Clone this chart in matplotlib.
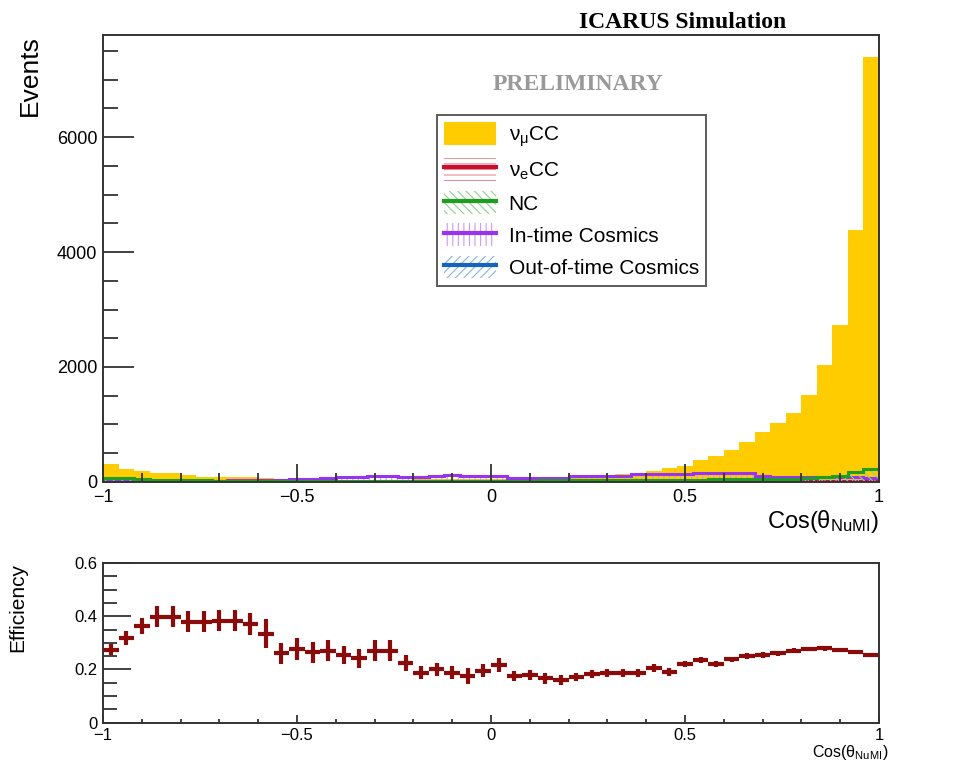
import numpy as np
import matplotlib
matplotlib.use("Agg")
import matplotlib.pyplot as plt
from matplotlib.patches import Patch
from matplotlib.lines import Line2D
from matplotlib.ticker import MultipleLocator, FixedFormatter, FixedLocator

plt.rcParams['font.family'] = ['Liberation Sans', 'DejaVu Sans']
plt.rcParams['mathtext.fontset'] = 'custom'
plt.rcParams['mathtext.rm'] = 'Liberation Sans'
plt.rcParams['mathtext.it'] = 'Liberation Sans:italic'
plt.rcParams['mathtext.default'] = 'regular'
plt.rcParams['hatch.linewidth'] = 0.8

bin_edges = np.linspace(-1, 1, 51)

numu_cc = [313, 226, 197, 151, 151, 122, 93, 93, 93, 93,
           64, 60, 55, 50, 46, 42, 40, 40, 40, 42,
           44, 46, 48, 50, 52, 55, 58, 62, 68, 75,
           85, 98, 115, 133, 162, 197, 238, 278, 383, 452,
           556, 701, 875, 1032, 1194, 1513, 2035, 2730, 4382, 7396]
nue_cc = [8, 8, 8, 8, 20, 15, 10, 8, 8, 8,
          8, 8, 8, 8, 8, 8, 8, 8, 8, 8,
          8, 8, 8, 8, 8, 8, 8, 8, 8, 10,
          10, 10, 12, 12, 14, 14, 16, 16, 18, 18,
          20, 20, 22, 22, 24, 24, 20, 18, 15, 12]
nc = [70, 65, 45, 40, 35, 30, 28, 25, 25, 25,
      25, 25, 25, 25, 25, 25, 25, 25, 25, 25,
      25, 25, 25, 25, 25, 25, 25, 25, 28, 28,
      30, 30, 32, 32, 34, 36, 38, 40, 42, 44,
      46, 50, 52, 56, 60, 66, 80, 110, 168, 226]
intime_cosmics = [10, 12, 14, 16, 18, 20, 22, 25, 28, 30,
                  35, 40, 46, 50, 64, 90, 93, 105, 110, 85,
                  82, 104, 130, 105, 104, 104, 70, 72, 68, 72,
                  100, 104, 104, 106, 135, 139, 140, 138, 151, 151,
                  151, 151, 100, 95, 95, 90, 88, 85, 80, 75]
outtime_cosmics = [12, 12, 12, 12, 12, 14, 14, 14, 14, 14,
                   14, 14, 14, 14, 14, 16, 16, 16, 16, 16,
                   16, 16, 16, 16, 16, 16, 16, 16, 16, 16,
                   16, 16, 16, 16, 16, 16, 16, 16, 16, 16,
                   14, 14, 14, 14, 14, 14, 14, 14, 12, 12]

efficiency = [0.274, 0.318, 0.364, 0.399, 0.399, 0.380, 0.380, 0.384, 0.384, 0.371,
              0.334, 0.261, 0.277, 0.264, 0.271, 0.255, 0.242, 0.270, 0.270, 0.223,
              0.188, 0.200, 0.188, 0.176, 0.196, 0.217, 0.176, 0.179, 0.167, 0.161,
              0.173, 0.183, 0.186, 0.188, 0.188, 0.205, 0.192, 0.221, 0.236, 0.221,
              0.238, 0.251, 0.255, 0.261, 0.271, 0.276, 0.279, 0.274, 0.267, 0.255]
efficiency_err = [0.02, 0.025, 0.03, 0.04, 0.04, 0.04, 0.04, 0.04, 0.04, 0.04,
                  0.055, 0.04, 0.04, 0.04, 0.04, 0.035, 0.035, 0.04, 0.04, 0.03,
                  0.025, 0.025, 0.025, 0.03, 0.025, 0.025, 0.02, 0.02, 0.02, 0.02,
                  0.015, 0.015, 0.015, 0.015, 0.015, 0.015, 0.015, 0.012, 0.012, 0.012,
                  0.01, 0.01, 0.01, 0.01, 0.008, 0.008, 0.008, 0.008, 0.008, 0.008]

# (label, values, line colour, hatch colour, hatch)
components = [
    (r'$\nu_{e}$CC', nue_cc, '#C8102E', '#E58A9A', '---'),
    ('NC', nc, '#1E9E1E', '#8FCF8F', '\\\\\\\\'),
    ('In-time Cosmics', intime_cosmics, '#9933EE', '#CC99F6', '|||'),
    ('Out-of-time Cosmics', outtime_cosmics, '#1565C0', '#8AB2E0', '////'),
]
draw_order = [3, 0, 2, 1]
yellow = '#FFCC00'
axis_col = '#333333'

fig = plt.figure(figsize=(9.67, 7.63), dpi=100)
ax = fig.add_axes([0.1065, 0.3683, 0.8025, 0.5858])
ax2 = fig.add_axes([0.1065, 0.0528, 0.8025, 0.2093])

ax.stairs(numu_cc, bin_edges, fill=True, color=yellow, lw=0)
for i in draw_order:
    label, vals, col, hcol, hatch = components[i]
    ax.stairs(vals, bin_edges, fill=True, facecolor='none', edgecolor=hcol, hatch=hatch, lw=0)
    ax.stairs(vals, bin_edges, color=col, lw=2.2)

ax.set_xlim(-1, 1)
ax.set_ylim(0, 7774)


def style_axis(a, ymaj_len, xmaj_len, fs, xpad):
    for s in a.spines.values():
        s.set_color(axis_col)
        s.set_linewidth(1.4)
    a.tick_params(which='both', direction='in', top=False, right=False,
                  color=axis_col, width=1.3, labelsize=fs)
    a.tick_params(axis='y', which='major', length=ymaj_len, pad=4)
    a.tick_params(axis='y', which='minor', length=ymaj_len / 2)
    a.tick_params(axis='x', which='major', length=xmaj_len, pad=xpad)
    a.tick_params(axis='x', which='minor', length=xmaj_len / 2)
    a.xaxis.set_major_locator(FixedLocator([-1, -0.5, 0, 0.5, 1]))
    a.xaxis.set_major_formatter(FixedFormatter(['\u22121', '\u22120.5', '0', '0.5', '1']))
    a.xaxis.set_minor_locator(MultipleLocator(0.1))


style_axis(ax, 22, 13, 13, 5)
ax.yaxis.set_major_locator(MultipleLocator(2000))
ax.yaxis.set_minor_locator(MultipleLocator(500))

ax.set_ylabel('Events', fontsize=19, loc='top')
ax.yaxis.set_label_coords(-0.079, 1.0)
ax.set_xlabel(r'Cos($\theta_{NuMI}$)', fontsize=17, loc='right')
ax.xaxis.set_label_coords(1.0, -0.058)

fig.text(0.706, 0.971, 'ICARUS Simulation', family='Liberation Serif', weight='bold',
         fontsize=17, ha='center', va='center')
ax.text(0.612, 0.89, 'PRELIMINARY', transform=ax.transAxes, family='Liberation Serif',
        weight='bold', fontsize=17, color='#999999', ha='center', va='center')

handles = [Patch(facecolor=yellow, edgecolor='none')]
labels = [r'$\nu_{\mu}$CC']
for label, vals, col, hcol, hatch in components:
    handles.append((Patch(facecolor='none', edgecolor=hcol, hatch=hatch, lw=0),
                    Line2D([], [], color=col, lw=3)))
    labels.append(label)
leg = ax.legend(handles, labels, loc='upper left', bbox_to_anchor=(0.430, 0.821),
                borderaxespad=0, fontsize=15, frameon=True, fancybox=False,
                edgecolor=axis_col, handlelength=2.5, handleheight=1.3,
                handletextpad=0.6, labelspacing=0.45, borderpad=0.35)
leg.get_frame().set_linewidth(1.4)

centers = 0.5 * (bin_edges[:-1] + bin_edges[1:])
ax2.errorbar(centers, efficiency, xerr=0.02, yerr=efficiency_err, fmt='none',
             ecolor='#8B0A0A', elinewidth=3, capsize=0)
ax2.set_xlim(-1, 1)
ax2.set_ylim(0, 0.6)
style_axis(ax2, 20, 6, 12, 4)
ax2.yaxis.set_major_locator(FixedLocator([0, 0.2, 0.4, 0.6]))
ax2.yaxis.set_major_formatter(FixedFormatter(['0', '0.2', '0.4', '0.6']))
ax2.yaxis.set_minor_locator(MultipleLocator(0.05))
ax2.set_ylabel('Efficiency', fontsize=15, loc='top')
ax2.yaxis.set_label_coords(-0.098, 1.0)
ax2.set_xlabel(r'Cos($\theta_{NuMI}$)', fontsize=11.5, loc='right')
ax2.xaxis.set_label_coords(1.012, -0.125)

fig.savefig('out.png', dpi=100)
